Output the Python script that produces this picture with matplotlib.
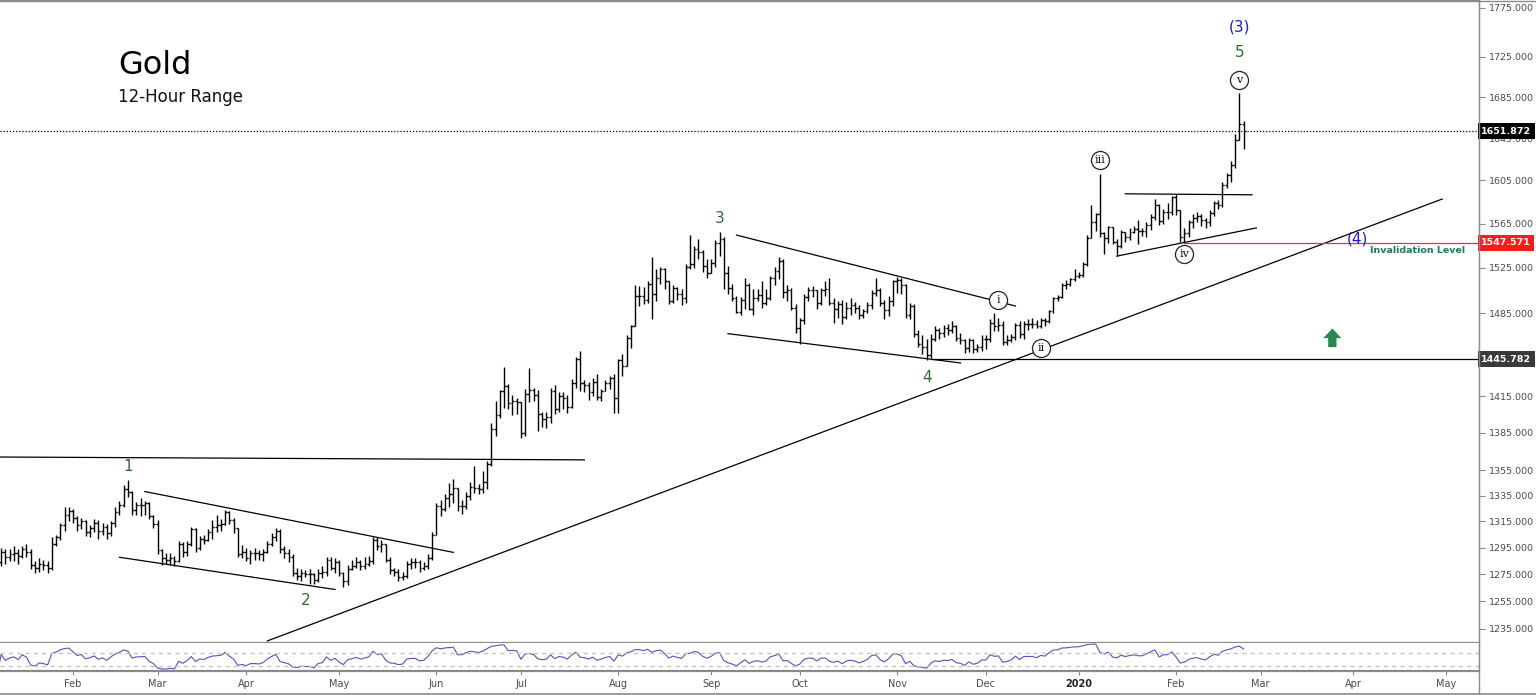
import numpy as np
import pandas as pd
import matplotlib
matplotlib.use('Agg')
import matplotlib.pyplot as plt
import matplotlib.transforms as mtransforms
from matplotlib.lines import Line2D
from matplotlib.ticker import FixedLocator, NullLocator

# Daily bars, one row per week (Mon..Fri), first week = 2019-01-07
closes = [
    1289, 1284, 1292, 1288, 1290,
    1291, 1289, 1294, 1292, 1282,
    1280, 1283, 1282, 1280, 1298,
    1303, 1312, 1320, 1323, 1318,
    1312, 1315, 1307, 1310, 1314,  # Feb
    1308, 1311, 1306, 1314, 1322,
    1328, 1340, 1338, 1324, 1328,
    1328, 1329, 1319, 1313, 1293,
    1287, 1286, 1287, 1285, 1298,  # Mar
    1292, 1298, 1309, 1295, 1302,
    1301, 1307, 1311, 1312, 1313,
    1322, 1316, 1310, 1290, 1292,
    1287, 1291, 1291, 1290, 1292,  # Apr
    1298, 1303, 1308, 1294, 1291,
    1288, 1276, 1274, 1276, 1275,
    1275, 1271, 1276, 1277, 1286,
    1280, 1284, 1276, 1270, 1279,
    1281, 1284, 1281, 1283, 1285,  # May
    1301, 1296, 1298, 1286, 1278,
    1277, 1273, 1274, 1283, 1284,
    1284, 1280, 1281, 1287, 1305,
    1327, 1325, 1333, 1336, 1341,  # Jun
    1327, 1327, 1335, 1342, 1341,
    1340, 1346, 1360, 1388, 1399,
    1419, 1423, 1409, 1411, 1410,
    1385, 1417, 1420, 1416, 1400,  # Jul
    1396, 1398, 1419, 1404, 1415,
    1413, 1406, 1426, 1446, 1426,
    1424, 1418, 1427, 1414, 1419,
    1426, 1430, 1413, 1445, 1440,
    1464, 1474, 1500, 1500, 1497,  # Aug
    1511, 1502, 1516, 1524, 1513,
    1496, 1507, 1502, 1498, 1526,
    1528, 1542, 1539, 1527, 1520,
    1529, 1547, 1551, 1520, 1507,  # Sep
    1498, 1486, 1497, 1510, 1489,
    1498, 1501, 1494, 1498, 1516,
    1522, 1531, 1504, 1505, 1490,
    1472, 1479, 1499, 1505, 1505,
    1494, 1505, 1506, 1494, 1489,  # Oct
    1493, 1482, 1490, 1492, 1490,
    1484, 1487, 1492, 1503, 1505,
    1494, 1488, 1496, 1513, 1514,
    1510, 1484, 1491, 1467, 1459,  # Nov
    1456, 1449, 1463, 1471, 1468,
    1472, 1471, 1474, 1464, 1462,
    1455, 1462, 1454, 1456, 1463,
    1463, 1477, 1474, 1475, 1460,  # Dec
    1462, 1465, 1475, 1467, 1476,
    1476, 1476, 1474, 1479, 1478,
    1487, 1498, 1499, 1510, 1511,
    1515, 1518, 1519, 1528, 1552,
    1566, 1574, 1556, 1552, 1562,  # Jan 2020
    1548, 1545, 1557, 1553, 1557,
    1560, 1558, 1558, 1564, 1571,
    1582, 1567, 1576, 1576, 1589,
    1577, 1553, 1556, 1566, 1570,  # Feb 2020
    1572, 1568, 1566, 1575, 1584,
    1582, 1601, 1610, 1619, 1643,
    1659, 1651.872,
]

highs = [
    1298, 1291, 1295, 1294, 1294,
    1296, 1294, 1296, 1298, 1294,
    1285, 1287, 1286, 1285, 1303,
    1305, 1314, 1326, 1326, 1325,
    1319, 1318, 1316, 1312, 1317,  # Feb
    1316, 1314, 1313, 1315, 1326,
    1331, 1343, 1347, 1339, 1330,
    1333, 1331, 1330, 1320, 1316,
    1294, 1291, 1291, 1289, 1300,  # Mar
    1299, 1300, 1311, 1310, 1304,
    1305, 1309, 1316, 1320, 1317,
    1324, 1323, 1318, 1310, 1297,
    1295, 1293, 1295, 1293, 1294,  # Apr
    1300, 1306, 1310, 1309, 1296,
    1294, 1290, 1280, 1279, 1278,
    1279, 1276, 1279, 1281, 1288,
    1288, 1287, 1286, 1277, 1282,
    1286, 1288, 1286, 1288, 1289,  # May
    1303, 1303, 1301, 1298, 1288,
    1280, 1279, 1277, 1285, 1287,
    1287, 1286, 1284, 1290, 1307,
    1329, 1332, 1336, 1345, 1348,  # Jun
    1340, 1332, 1338, 1346, 1358,
    1344, 1354, 1362, 1393, 1411,
    1420, 1439, 1425, 1416, 1413,
    1408, 1421, 1438, 1422, 1420,  # Jul
    1402, 1402, 1422, 1424, 1418,
    1418, 1416, 1429, 1448, 1453,
    1428, 1427, 1430, 1433, 1421,
    1428, 1432, 1433, 1446, 1450,
    1466, 1475, 1510, 1509, 1508,  # Aug
    1513, 1535, 1524, 1526, 1525,
    1506, 1510, 1508, 1506, 1528,
    1555, 1545, 1551, 1541, 1533,
    1533, 1550, 1557, 1553, 1527,  # Sep
    1511, 1500, 1499, 1516, 1512,
    1506, 1506, 1513, 1506, 1518,
    1526, 1535, 1533, 1510, 1507,
    1493, 1481, 1502, 1508, 1509,
    1500, 1507, 1513, 1516, 1498,  # Oct
    1496, 1497, 1495, 1498, 1495,
    1492, 1489, 1495, 1505, 1516,
    1507, 1497, 1500, 1514, 1517,
    1516, 1511, 1494, 1493, 1471,  # Nov
    1466, 1463, 1467, 1474, 1472,
    1475, 1476, 1478, 1475, 1468,
    1463, 1464, 1463, 1459, 1466,
    1466, 1480, 1485, 1481, 1478,  # Dec
    1466, 1467, 1477, 1478, 1478,
    1480, 1481, 1479, 1481, 1481,
    1488, 1499, 1501, 1512, 1514,
    1516, 1524, 1521, 1530, 1555,
    1582, 1575, 1611, 1557, 1563,  # Jan 2020
    1562, 1551, 1559, 1557, 1561,
    1563, 1568, 1561, 1566, 1574,
    1588, 1583, 1578, 1584, 1590,
    1592, 1576, 1561, 1568, 1574,  # Feb 2020
    1576, 1574, 1570, 1577, 1586,
    1587, 1603, 1612, 1623, 1649,
    1689, 1662,
]

lows = [
    1282, 1279, 1281, 1283, 1285,
    1285, 1283, 1287, 1288, 1279,
    1276, 1277, 1278, 1276, 1278,
    1296, 1301, 1308, 1315, 1314,
    1308, 1309, 1304, 1303, 1307,  # Feb
    1302, 1305, 1302, 1304, 1311,
    1320, 1326, 1334, 1320, 1320,
    1319, 1320, 1317, 1310, 1290,
    1282, 1283, 1282, 1281, 1284,  # Mar
    1288, 1289, 1296, 1292, 1293,
    1298, 1300, 1302, 1307, 1308,
    1312, 1313, 1306, 1288, 1287,
    1285, 1283, 1286, 1286, 1285,  # Apr
    1291, 1296, 1300, 1291, 1287,
    1284, 1274, 1271, 1270, 1273,
    1268, 1268, 1269, 1272, 1274,
    1278, 1276, 1274, 1266, 1267,
    1278, 1280, 1278, 1279, 1281,  # May
    1283, 1293, 1292, 1284, 1275,
    1274, 1270, 1271, 1272, 1279,
    1280, 1277, 1278, 1279, 1286,
    1307, 1319, 1323, 1326, 1329,  # Jun
    1323, 1321, 1325, 1332, 1337,
    1336, 1337, 1340, 1358, 1382,
    1397, 1405, 1404, 1399, 1400,
    1381, 1382, 1410, 1411, 1386,  # Jul
    1390, 1389, 1393, 1400, 1402,
    1404, 1401, 1405, 1422, 1419,
    1418, 1412, 1415, 1412, 1411,
    1419, 1421, 1401, 1401, 1432,
    1440, 1455, 1474, 1491, 1493,  # Aug
    1494, 1480, 1496, 1511, 1506,
    1493, 1494, 1497, 1492, 1494,
    1524, 1525, 1533, 1521, 1516,
    1520, 1526, 1536, 1506, 1502,  # Sep
    1496, 1485, 1484, 1489, 1488,
    1484, 1496, 1490, 1492, 1497,
    1510, 1515, 1498, 1496, 1488,
    1468, 1459, 1476, 1496, 1499,
    1489, 1492, 1500, 1492, 1477,  # Oct
    1481, 1476, 1480, 1484, 1485,
    1480, 1481, 1485, 1489, 1500,
    1491, 1480, 1483, 1491, 1503,
    1502, 1481, 1480, 1465, 1456,  # Nov
    1450, 1445, 1447, 1461, 1463,
    1465, 1466, 1468, 1461, 1459,
    1451, 1452, 1451, 1452, 1453,
    1454, 1460, 1470, 1470, 1458,  # Dec
    1458, 1460, 1462, 1464, 1463,
    1471, 1472, 1472, 1472, 1474,
    1477, 1485, 1496, 1498, 1506,
    1509, 1513, 1516, 1517, 1527,
    1553, 1558, 1553, 1537, 1547,  # Jan 2020
    1546, 1536, 1543, 1548, 1550,
    1556, 1546, 1554, 1553, 1559,
    1568, 1564, 1565, 1569, 1573,
    1573, 1548, 1547, 1553, 1561,  # Feb 2020
    1566, 1563, 1561, 1563, 1572,
    1578, 1580, 1598, 1603, 1617,
    1644, 1635,
]

# Drawn annotations: ((start date, price), (end date, price))
trend_lines = [
    (('2019-01-07', 1365.5), ('2019-07-22', 1363.2)),
    (('2019-02-26', 1338.2), ('2019-06-07', 1291.5)),
    (('2019-02-18', 1287.8), ('2019-04-30', 1263.8)),
    (('2019-04-08', 1226.4), ('2020-04-30', 1587.6)),
    (('2019-09-10', 1554.5), ('2019-12-11', 1491.4)),
    (('2019-09-06', 1467.5), ('2019-11-22', 1442.6)),
    (('2020-01-16', 1592.4), ('2020-02-27', 1591.5)),
    (('2020-01-14', 1535.5), ('2020-02-28', 1561.0)),
]

wave_labels = [('2019-02-20', 1358, '1'), ('2019-04-19', 1256, '2'),
               ('2019-09-04', 1570, '3'), ('2019-11-12', 1430, '4'),
               ('2020-02-24', 1729, '5')]
degree_labels = [('2020-02-24', 1755, '(3)'), ('2020-04-02', 1551, '(4)')]
circle_labels = [('2019-12-05', 1497, 'i'), ('2019-12-19', 1455.3, 'ii'),
                 ('2020-01-08', 1624, 'iii'), ('2020-02-05', 1537.5, 'iv'),
                 ('2020-02-24', 1702, 'v')]

last_price = 1651.872
invalidation = 1547.571
support = 1445.782
price_ticks = [1235, 1255, 1275, 1295, 1315, 1335, 1355, 1385, 1415,
               1485, 1525, 1565, 1605, 1645, 1685, 1725, 1775]

# ---------------------------------------------------------------------------
closes = np.array(closes, dtype=float)
highs = np.array(highs, dtype=float)
lows = np.array(lows, dtype=float)
opens = np.r_[closes[0], closes[:-1]]
highs = np.maximum(highs, np.maximum(opens, closes))
lows = np.minimum(lows, np.minimum(opens, closes))
x = np.arange(len(closes))

all_days = pd.bdate_range('2019-01-07', '2020-06-30')
X_LIM = (1.73, 351.7)


def pos(d):
    return all_days.get_loc(pd.Timestamp(d))


# RSI on daily closes; 7 days ~ 14 bars of 12 hours
rsi_len = 7
delta = pd.Series(closes).diff().fillna(0)
gain = delta.clip(lower=0).ewm(alpha=1 / rsi_len, adjust=False).mean()
loss = (-delta.clip(upper=0)).ewm(alpha=1 / rsi_len, adjust=False).mean()
rsi = 100 - 100 / (1 + gain / loss.replace(0, np.nan))
rsi = rsi.fillna(50).values

W, H = 1536, 695
fig = plt.figure(figsize=(W / 100, H / 100), dpi=100)
ax = fig.add_axes([0, 52 / H, 1479 / W, 643 / H])
ax_rsi = fig.add_axes([0, 24 / H, 1479 / W, 28 / H], sharex=ax)

# OHLC bars
bar_kw = dict(color='black', lw=1.0)
ax.vlines(x, lows, highs, **bar_kw)
ax.hlines(opens, x - 0.45, x, **bar_kw)
ax.hlines(closes, x, x + 0.45, **bar_kw)

ax.set_yscale('log')
ax.set_ylim(1224.9, 1783.3)

# trend lines
for (d0, p0), (d1, p1) in trend_lines:
    ax.plot([pos(d0), pos(d1)], [p0, p1], color='black', lw=0.9, zorder=3)

ax.axhline(last_price, color='black', lw=0.9, ls=(0, (1, 1.5)), zorder=3)
ax.plot([pos('2020-02-05'), X_LIM[1]], [invalidation] * 2, color='#f23030', lw=0.9, zorder=3)
ax.plot([pos('2019-11-13'), X_LIM[1]], [support] * 2, color='black', lw=0.9, zorder=3)

# wave labels
for d, p, t in wave_labels:
    ax.text(pos(d), p, t, ha='center', va='center', fontsize=11, color='#2e6b34', zorder=6)
for d, p, t in degree_labels:
    ax.text(pos(d), p, t, ha='center', va='center', fontsize=11, color='#1c1cc4', zorder=6)
for d, p, t in circle_labels:
    ax.plot(pos(d), p, 'o', ms=13, mfc='white', mec='#222222', mew=0.9, zorder=6)
    ax.text(pos(d), p, t, ha='center', va='center', fontsize=8, family='DejaVu Serif',
            color='#111111', zorder=7)

ax.text(pos('2020-04-07'), 1540.2, 'Invalidation Level', ha='left', va='center',
        fontsize=6.8, fontweight='bold', color='#1d7a5c', zorder=6)

ax.annotate('', xy=(pos('2020-03-25'), 1472), xytext=(pos('2020-03-25'), 1456),
            arrowprops=dict(arrowstyle='simple,head_length=0.7,head_width=1.3,tail_width=0.6',
                            mutation_scale=10, color='#2e8554', lw=0,
                            shrinkA=0, shrinkB=0), zorder=6)

# titles
fig.text(118 / W, 1 - 66 / H, 'Gold', fontsize=23, ha='left', va='center', color='black')
fig.text(118 / W, 1 - 97 / H, '12-Hour Range', fontsize=12, ha='left', va='center', color='#111111')

# price axis on the right
ax.yaxis.tick_right()
ax.yaxis.set_major_locator(FixedLocator(price_ticks))
ax.yaxis.set_minor_locator(NullLocator())
ax.set_yticklabels([f'{v:.3f}' for v in price_ticks])
ax.tick_params(axis='y', direction='out', length=4, width=0.8, colors='#8a8a8a',
               labelcolor='#4a4a4a', labelsize=6.8, pad=3)
ax.tick_params(axis='x', bottom=False, labelbottom=False)

trans = mtransforms.blended_transform_factory(ax.transAxes, ax.transData)
for val, fc in [(last_price, 'black'), (invalidation, '#ff1a1a'), (support, '#3a3a3a')]:
    ax.text(1.0015, val, f'{val:.3f}', transform=trans, ha='left', va='center',
            fontsize=6.8, fontweight='bold', color='white', clip_on=False, zorder=10,
            bbox=dict(boxstyle='square,pad=0.35', fc=fc, ec='none'))

ax.spines['left'].set_visible(False)
ax.spines['right'].set_color('#8a8a8a')
ax.spines['top'].set_color('#8a8a8a')
ax.spines['bottom'].set_color('#8a8a8a')
ax.spines['bottom'].set_linewidth(1.6)

# RSI pane
ax_rsi.plot(x, rsi, color='#5a50c0', lw=0.8)
for lvl in (70, 30):
    ax_rsi.axhline(lvl, color='#c4c4c4', lw=1.0, ls=(0, (3, 3)))
ax_rsi.set_ylim(15, 100)
ax_rsi.set_yticks([])
ax_rsi.spines['left'].set_visible(False)
ax_rsi.spines['top'].set_visible(False)
ax_rsi.spines['right'].set_color('#8a8a8a')
ax_rsi.spines['bottom'].set_color('#8a8a8a')
ax_rsi.spines['bottom'].set_linewidth(1.6)

tick_pos, tick_lab = [], []
firsts = all_days.to_series().groupby(all_days.to_period('M')).first()
for d in firsts.values:
    d = pd.Timestamp(d)
    if d.year == 2019 and d.month == 1:
        continue
    tick_pos.append(pos(d))
    tick_lab.append(str(d.year) if d.month == 1 else d.strftime('%b'))
ax_rsi.set_xticks(tick_pos)
ax_rsi.set_xticklabels(tick_lab)
ax_rsi.tick_params(axis='x', direction='out', length=3, width=0.8, colors='#8a8a8a',
                   labelcolor='#4a4a4a', labelsize=7, pad=3)
for lab in ax_rsi.get_xticklabels():
    if lab.get_text() == '2020':
        lab.set_fontweight('bold')
        lab.set_color('#222222')

# fix the shared x range after everything has been plotted
ax.set_xlim(*X_LIM)

# outer frame lines
fig.add_artist(Line2D([1479 / W] * 2, [0, 1], color='#8a8a8a', lw=1.0))
fig.add_artist(Line2D([0, 1], [0.7 / H] * 2, color='#8a8a8a', lw=1.2))
fig.add_artist(Line2D([0, 1], [1 - 0.5 / H] * 2, color='#8a8a8a', lw=1.0))

fig.savefig('out.png', dpi=100, facecolor='white')
